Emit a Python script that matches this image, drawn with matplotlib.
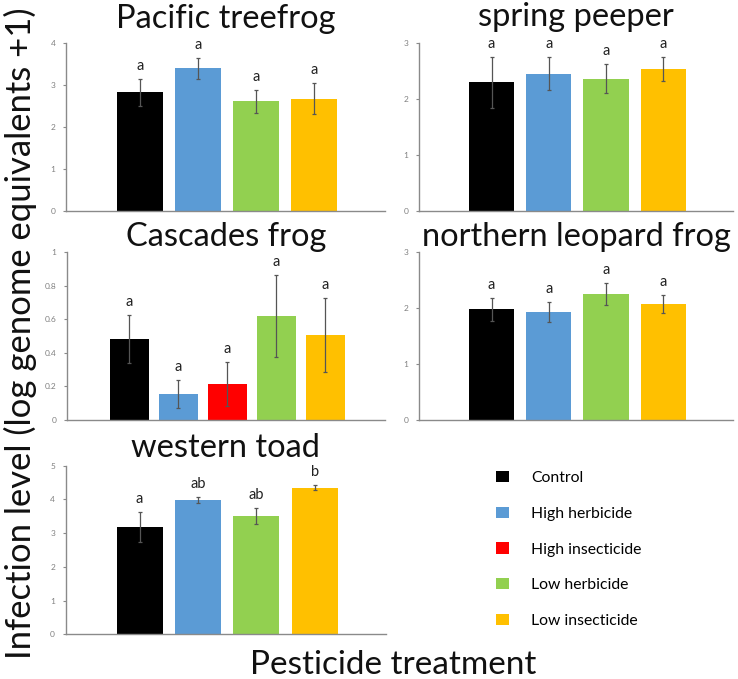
import matplotlib
matplotlib.use("Agg")
from matplotlib import pyplot as plt
from matplotlib.patches import Patch

plt.rcParams['font.family'] = ['Lato', 'DejaVu Sans']

# data

treatments = ['Control', 'High herbicide', 'High insecticide', 'Low herbicide', 'Low insecticide']
colors = {'Control': '#000000', 'High herbicide': '#5b9bd5', 'High insecticide': '#ff0000',
          'Low herbicide': '#92d050', 'Low insecticide': '#ffc000'}

treefrog_trt = ['Control', 'High herbicide', 'Low herbicide', 'Low insecticide']
treefrog_mean = [2.83, 3.40, 2.61, 2.67]
treefrog_se = [0.32, 0.25, 0.28, 0.37]
treefrog_grp = ['a', 'a', 'a', 'a']

peeper_trt = ['Control', 'High herbicide', 'Low herbicide', 'Low insecticide']
peeper_mean = [2.29, 2.45, 2.36, 2.53]
peeper_se = [0.46, 0.30, 0.26, 0.21]
peeper_grp = ['a', 'a', 'a', 'a']

cascades_trt = ['Control', 'High herbicide', 'High insecticide', 'Low herbicide', 'Low insecticide']
cascades_mean = [0.483, 0.155, 0.215, 0.622, 0.507]
cascades_se = [0.142, 0.085, 0.132, 0.245, 0.22]
cascades_grp = ['a', 'a', 'a', 'a', 'a']

leopard_trt = ['Control', 'High herbicide', 'Low herbicide', 'Low insecticide']
leopard_mean = [1.98, 1.93, 2.25, 2.07]
leopard_se = [0.21, 0.18, 0.20, 0.16]
leopard_grp = ['a', 'a', 'a', 'a']

toad_trt = ['Control', 'High herbicide', 'Low herbicide', 'Low insecticide']
toad_mean = [3.19, 3.97, 3.50, 4.35]
toad_se = [0.45, 0.09, 0.24, 0.07]
toad_grp = ['a', 'ab', 'ab', 'b']

fig = plt.figure(figsize=(7.38, 6.79), dpi=100)
W, H = 738.0, 679.0

def panel(px, title, trt, mean, se, grp, ymax, yticks, ticklabels, tpad):
	# px = (left, top, right, bottom) in pixels
	l, t, r, b = px
	ax = fig.add_axes([l/W, 1 - b/H, (r - l)/W, (b - t)/H])
	x = list(range(len(trt)))
	ax.bar(x, mean, width=0.79, color=[colors[k] for k in trt], zorder=2)
	ax.errorbar(x, mean, yerr=se, fmt='none', ecolor='#555555', elinewidth=0.9,
				capsize=1.6, capthick=0.9, zorder=3)
	for xi, m, s, g in zip(x, mean, se, grp):
		ax.annotate(g, (xi, m + s), xytext=(0, 6.5), textcoords='offset points',
					ha='center', va='baseline', fontsize=10.5, color='#222222')
	ax.set_xlim(-1.27, len(trt) + 0.22)
	ax.set_ylim(0, ymax)
	ax.set_yticks(yticks)
	ax.set_yticklabels(ticklabels)
	ax.set_xticks([])
	for s in ['top', 'right']:
		ax.spines[s].set_visible(False)
	for s in ['left', 'bottom']:
		ax.spines[s].set_color('#8a8a8a')
		ax.spines[s].set_linewidth(1.0)
	ax.tick_params(axis='y', direction='out', length=2.5, width=0.8, color='#8a8a8a',
				   labelsize=6, labelcolor='#808080', pad=5)
	ax.set_title(title, fontsize=23.5, pad=tpad, color='#111111')
	return ax

panel((66, 43, 385, 211), 'Pacific treefrog', treefrog_trt, treefrog_mean, treefrog_se,
	  treefrog_grp, 4, [0, 1, 2, 3, 4], ['0', '1', '2', '3', '4'], 10.5)
panel((419, 42.7, 733, 210.7), 'spring peeper', peeper_trt, peeper_mean, peeper_se,
	  peeper_grp, 3, [0, 1, 2, 3], ['0', '1', '2', '3'], 12)
panel((67, 252.3, 385, 420), 'Cascades frog', cascades_trt, cascades_mean, cascades_se,
	  cascades_grp, 1, [0, 0.2, 0.4, 0.6, 0.8, 1], ['0', '0.2', '0.4', '0.6', '0.8', '1'], 4)
panel((419, 252.3, 733, 420), 'northern leopard frog', leopard_trt, leopard_mean, leopard_se,
	  leopard_grp, 3, [0, 1, 2, 3], ['0', '1', '2', '3'], 4)
panel((65.5, 465.7, 386, 634.3), 'western toad', toad_trt, toad_mean, toad_se,
	  toad_grp, 5, [0, 1, 2, 3, 4, 5], ['0', '1', '2', '3', '4', '5'], 6.5)

# legend
handles = [Patch(facecolor=colors[k], edgecolor='none') for k in treatments]
fig.legend(handles, treatments, loc='upper left', bbox_to_anchor=(496/W, 1 - 471/H),
		   frameon=False, fontsize=11.3, borderpad=0, borderaxespad=0,
		   handlelength=0.85, handleheight=0.72, handletextpad=1.4, labelspacing=1.38)

fig.text(20/W, 1 - 333/H, 'Infection level (log genome equivalents +1)', rotation=90,
		 ha='center', va='center', fontsize=24.9, color='#111111')
fig.text(393/W, 1 - 665/H, 'Pesticide treatment', ha='center', va='center',
		 fontsize=24, color='#111111')

plt.savefig('out.png', dpi=100)
